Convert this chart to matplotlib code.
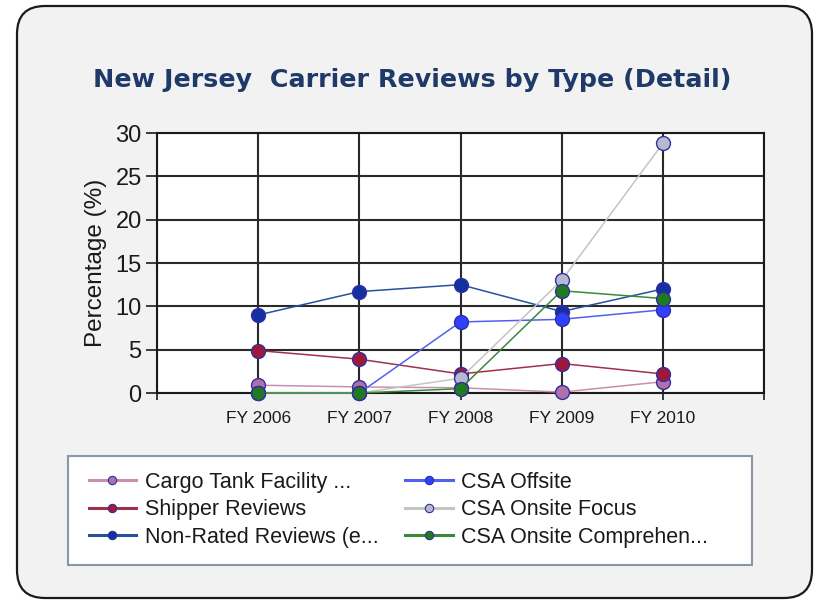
import matplotlib
matplotlib.use("Agg")
import matplotlib.pyplot as plt
from matplotlib.patches import FancyBboxPatch, Rectangle

years = ["FY 2006", "FY 2007", "FY 2008", "FY 2009", "FY 2010"]

cargo_tank = [0.9, 0.7, 0.6, 0.1, 1.3]
shipper = [4.9, 3.9, 2.2, 3.4, 2.2]
non_rated = [9.0, 11.7, 12.5, 9.4, 12.0]
csa_offsite = [0.0, 0.0, 8.2, 8.5, 9.6]
csa_focus = [0.0, 0.0, 1.7, 13.0, 28.8]
csa_comp = [0.0, 0.0, 0.5, 11.8, 10.9]

names = ["Cargo Tank Facility ...", "Shipper Reviews", "Non-Rated Reviews (e...",
         "CSA Offsite", "CSA Onsite Focus", "CSA Onsite Comprehen..."]
line_colors = ["#c890b0", "#a0304a", "#2850a0", "#5060f0", "#c4c4c4", "#3a8a3a"]
face_colors = ["#b070a8", "#a01838", "#1530a0", "#3040ff", "#b8b8d0", "#207a20"]

plt.rcParams['font.family'] = ['Liberation Sans', 'DejaVu Sans']

fig = plt.figure(figsize=(8.17, 6.0), dpi=100)
fig.patch.set_facecolor("white")

# rounded panel behind everything
panel = FancyBboxPatch((0.17, 0.02), 7.95, 5.92,
                       boxstyle="round,pad=0,rounding_size=0.28",
                       transform=fig.dpi_scale_trans, facecolor="#f2f2f2",
                       edgecolor="#1a1a1a", linewidth=1.6, zorder=-3)
fig.patches.append(panel)

# legend box
fig.patches.append(Rectangle((68/817, 1 - 565/600), (752 - 68)/817, 109/600,
                             transform=fig.transFigure, facecolor="white",
                             edgecolor="#8a96a8", linewidth=1.5, zorder=-2))

ax = fig.add_axes([157/817, 207/600, 607/817, 260/600])
ax.set_zorder(2)
ax.set_facecolor("white")

series = [cargo_tank, shipper, non_rated, csa_offsite, csa_focus, csa_comp]
x = list(range(1, len(years) + 1))
handles = []
for vals, lc, fc, nm in zip(series, line_colors, face_colors, names):
    ax.plot(x, vals, color=lc, linewidth=1.1, marker="o", markersize=10,
            markerfacecolor=fc, markeredgecolor="#3030a0", markeredgewidth=1.0,
            zorder=3, clip_on=False)
    h, = ax.plot([], [], color=lc, linewidth=2.2, marker="o", markersize=6,
                 markerfacecolor=fc, markeredgecolor="#3030a0", markeredgewidth=0.8)
    handles.append(h)

ax.set_xlim(0, 6)
ax.set_ylim(0, 30)
ax.set_yticks(range(0, 31, 5))
ax.set_xticks(range(0, 7))
ax.set_xticklabels([""] + years + [""])
ax.tick_params(axis="x", length=5, width=1.2, pad=8, labelsize=12.5, colors="#1a1a1a")
ax.tick_params(axis="y", length=8, width=1.2, pad=3, labelsize=17, colors="#1a1a1a")
ax.grid(True, color="#2a2a2a", linewidth=1.5)
ax.set_axisbelow(True)
for s in ax.spines.values():
    s.set_color("#1a1a1a")
    s.set_linewidth(1.5)
ax.set_ylabel("Percentage (%)", fontsize=17.5, color="#1a1a1a", labelpad=6)

fig.text(412/817, 1 - 80/600, "New Jersey  Carrier Reviews by Type (Detail)",
         ha="center", va="center", fontsize=18.3, color="#1f3a68",
         family="DejaVu Sans", weight="semibold")

leg = fig.legend(handles, names, loc="upper left", ncol=2,
                 bbox_to_anchor=(78/817, 1 - 461/600), frameon=False,
                 borderpad=0, fontsize=15.5, handlelength=2.2, handletextpad=0.4,
                 labelspacing=0.3, columnspacing=1.25)
for t in leg.get_texts():
    t.set_color("#1a1a1a")

fig.savefig("out.png", dpi=100)
